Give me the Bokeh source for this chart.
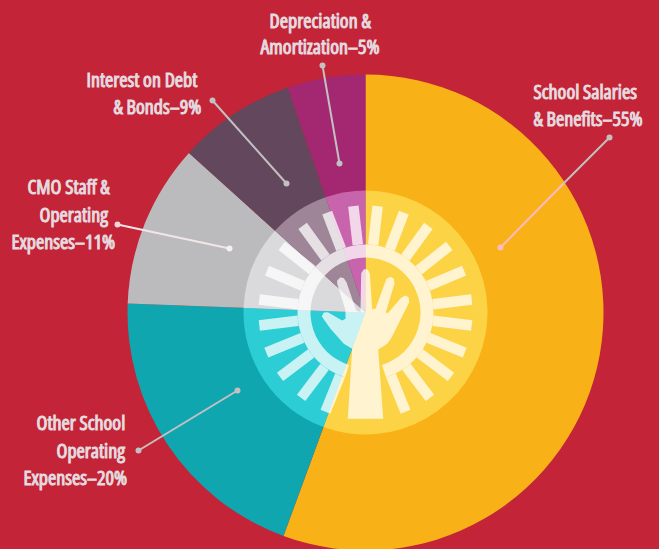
import numpy as np
from bokeh.plotting import figure
from bokeh.models import Range1d
from bokeh.core.properties import value
from bokeh.embed import file_html
from bokeh.resources import INLINE

W, H = 659, 549
RED = "#C32437"
TXT = "#E7E6EA"

categories = ["School Salaries & Benefits", "Other School Operating Expenses",
              "CMO Staff & Operating Expenses", "Interest on Debt & Bonds",
              "Depreciation & Amortization"]
values = [55.6, 20.0, 11.1, 8.0, 5.3]
slice_colors = ["#F9B118", "#0FA6B0", "#BBBBBD", "#63475C", "#A32771"]
disc_colors = ["#FDD346", "#2CCDD4", "#DADADC", "#9E8598", "#C864AB"]

label_lines = ["Depreciation &", "Amortization\u20135%",
               "Interest on Debt", "& Bonds\u20139%",
               "CMO Staff &", "Operating", "Expenses\u201311%",
               "Other School", "Operating", "Expenses\u201320%",
               "School Salaries", "& Benefits\u201355%"]
label_x = [269, 260, 86, 113, 27, 39, 11, 36, 56, 23, 533, 533]
label_y = [20, 46, 79, 106, 186, 214, 241, 422, 450, 477, 91, 118]

leader_x0 = [609, 563, 322, 212, 117, 138]
leader_y0 = [137, 183, 65, 100, 224, 450]
leader_x1 = [563, 500, 339, 286, 229, 237]
leader_y1 = [183, 247, 163, 183, 248, 390]
leader_col = ["#C4C0C2", "#FFBBC6", "#C4C0C2", "#C4C0C2", "#F4E4E6", "#C4C0C2"]
dot_x = [609, 500, 322, 339, 212, 286, 117, 229, 138, 237]
dot_y = [137, 247, 65, 163, 100, 183, 224, 248, 450, 390]
dot_col = ["#C4C0C2", "#FFBBC6", "#C4C0C2", "#C4C0C2", "#C4C0C2", "#C4C0C2",
           "#F4D4D8", "#F4F0F0", "#C4C0C2", "#C4C0C2"]

spike_deg = [6.5, 21, 36, 51.5, 67, 83, 97, 112, 127, 143, 158,
             -6.5, -21, -36, -51.5, -67, -83, -97, -112, -127, -143, -158]

hand_px = [(347.3, 418.3), (382.7, 418.3), (377.7, 349), (386.7, 343.3), (391, 337.3),
           (408.7, 301.7), (408, 296.7), (404.7, 295), (400.7, 297.3), (387.3, 312.7),
           (385.3, 312), (394, 282.7), (393.3, 278.3), (390, 276.3), (386, 278.3),
           (375, 308.3), (371.7, 308.7), (369.3, 273.3), (367.3, 269), (363.3, 268.7),
           (360.7, 272.7), (360, 311.7), (355.7, 310), (346, 281.7), (343.3, 277.7),
           (340, 276.7), (336.7, 280), (336.7, 283.3), (345, 310), (345, 318.3),
           (341.7, 320), (327.3, 311.7), (323.3, 312), (321.3, 316), (330, 328.3),
           (343.3, 343.3), (351.7, 348.3)]

CX, CY = 365, H - 312
R_OUT, R_DISC, R_IN, R_RING, R_SPIKE = 238, 122, 55, 68, 107


def fy(v):
    return H - np.asarray(v, dtype=float)


p = figure(width=W, height=H, output_backend="svg", toolbar_location=None,
           x_range=Range1d(0, W), y_range=Range1d(0, H),
           x_axis_type=None, y_axis_type=None, min_border=0)
p.grid.visible = False
p.outline_line_color = None
p.background_fill_color = RED
p.border_fill_color = RED

cum = np.cumsum([0] + values) / sum(values) * 2 * np.pi
starts = np.pi / 2 - cum[:-1]
ends = np.pi / 2 - cum[1:]

p.wedge(x=CX, y=CY, radius=R_OUT, start_angle=starts, end_angle=ends, direction="clock",
        fill_color=slice_colors, line_color=None)
p.wedge(x=CX, y=CY, radius=R_DISC, start_angle=starts, end_angle=ends, direction="clock",
        fill_color=disc_colors, line_color=None)

# white ring with a gap at the bottom for the arm
p.annular_wedge(x=CX, y=CY, inner_radius=R_IN, outer_radius=R_RING,
                start_angle=np.radians(-90 + 17.5), end_angle=np.radians(270 - 17.5),
                direction="anticlock", fill_color="white", fill_alpha=0.74, line_color=None)

a = np.radians(np.array(spike_deg))
rm = (R_RING + R_SPIKE) / 2
p.rect(x=CX + rm * np.sin(a), y=CY + rm * np.cos(a), width=10.5, height=R_SPIKE - R_RING,
       angle=-a, fill_color="white", fill_alpha=0.74, line_color=None)

p.patch([q[0] for q in hand_px], fy([q[1] for q in hand_px]), fill_color="white",
        fill_alpha=0.74, line_color=None)

p.segment(leader_x0, fy(leader_y0), leader_x1, fy(leader_y1), line_color=leader_col, line_width=2)
p.scatter(dot_x, fy(dot_y), size=6, marker="circle", fill_color=dot_col, line_color=None)

p.text(label_x, fy(label_y), text=label_lines,
       text_font=value("Open Sans"), text_font_size="20px",
       text_color=TXT, text_outline_color="#E4D8DE", text_align="left", text_baseline="middle")

html = file_html(p, INLINE)
html = html.replace("<body>", '<body style="background:%s;font-stretch:75%%">' % RED)
open("out.html", "w").write(html)
